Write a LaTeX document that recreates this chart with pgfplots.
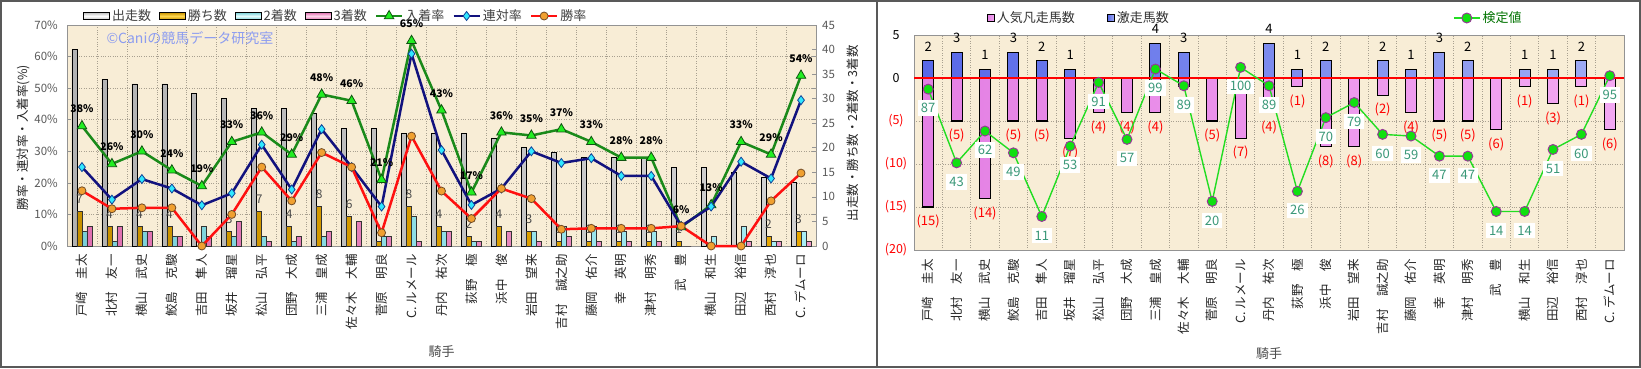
\documentclass[border=0pt]{standalone}
\usepackage{pgfplots}
\pgfplotsset{compat=1.18}
\usepackage{pgfplotstable}
\usepackage{fontspec}
\setmainfont{Noto Sans CJK JP}
\definecolor{bgc}{HTML}{F8EDD6}
\definecolor{gridc}{HTML}{A8A090}
\definecolor{grn}{HTML}{1A8A1A}
\definecolor{grnm}{HTML}{22EE22}
\definecolor{blu}{HTML}{12127E}
\definecolor{blum}{HTML}{30E8FF}
\definecolor{redl}{HTML}{FF1010}
\definecolor{redm}{HTML}{F0A030}
\definecolor{goldL}{HTML}{C89200}
\definecolor{goldM}{HTML}{FFD850}
\definecolor{goldR}{HTML}{E8A800}
\definecolor{cyL}{HTML}{78D0D8}
\definecolor{cyM}{HTML}{EAFFFF}
\definecolor{cyR}{HTML}{A8EEF4}
\definecolor{pkL}{HTML}{E070B0}
\definecolor{pkM}{HTML}{FFD8EC}
\definecolor{pkR}{HTML}{F098C8}
\definecolor{mgL}{HTML}{E480E4}
\definecolor{mgM}{HTML}{FFF0FF}
\definecolor{mgR}{HTML}{F2A8F2}
\definecolor{bbL}{HTML}{5868E8}
\definecolor{bbM}{HTML}{FFFFFF}
\definecolor{bbR}{HTML}{A0ACF4}
\definecolor{kg}{HTML}{22DD22}
\definecolor{kgm}{HTML}{10E010}
\definecolor{kgb}{HTML}{993399}
\definecolor{teallab}{HTML}{3A9878}
\definecolor{wm}{HTML}{8C9CF0}
\pgfplotsset{/pgf/number format/assume math mode=true,
  namelabels/.style={xticklabels={戸崎　圭太,北村　友一,横山　武史,鮫島　克駿,吉田　隼人,坂井　瑠星,松山　弘平,団野　大成,三浦　皇成,佐々木　大輔,菅原　明良,C. ルメール,丹内　祐次,荻野　極,浜中　俊,岩田　望来,吉村　誠之助,藤岡　佑介,幸　英明,津村　明秀,武　豊,横山　和生,田辺　裕信,西村　淳也,C. デムーロ}},
  linelegend/.style={legend image code/.code={\draw[mark repeat=2,mark phase=2,##1] plot coordinates {(0pt,0pt) (13pt,0pt) (26pt,0pt)};}}
}
\pgfplotstableread{
i starts wins second third winr rentai nyu
1 40 7 3 4 17.5 25.0 38
2 34 4 1 4 11.8 14.7 26
3 33 4 3 3 12.1 21.2 30
4 33 4 2 2 12.1 18.2 24
5 31 0 4 2 0 12.9 19
6 30 3 2 5 10.0 16.7 33
7 28 7 2 1 25.0 32.1 36
8 28 4 1 2 14.3 17.9 29
9 27 8 2 3 29.6 37.0 48
10 24 6 0 5 25.0 25.0 46
11 24 1 2 2 4.2 12.5 21
12 23 8 6 1 34.8 60.9 65
13 23 4 3 3 17.4 30.4 43
14 23 2 1 1 8.7 13.0 17
15 22 4 0 3 18.2 18.2 36
16 20 3 3 1 15.0 30.0 35
17 19 1 4 2 5.3 26.3 37
18 18 1 4 1 5.6 27.8 33
19 18 1 3 1 5.6 22.2 28
20 18 1 3 1 5.6 22.2 28
21 16 1 0 0 6.3 6.3 6
22 16 0 2 0 0 12.5 13
23 15 0 4 1 0 26.7 33
24 14 2 1 1 14.3 21.4 29
25 13 3 3 1 23.1 46.2 54
}\leftdata
\pgfplotstableread{
i geki ninki ken
1 2 -15 87
2 3 -5 43
3 1 -14 62
4 3 -5 49
5 2 -5 11
6 1 -7 53
7 0 -4 91
8 0 -4 57
9 4 -4 99
10 3 -1 89
11 0 -5 20
12 0 -7 100
13 4 -4 89
14 1 -1 26
15 2 -8 70
16 0 -8 79
17 2 -2 60
18 1 -4 59
19 3 -5 47
20 2 -5 47
21 0 -6 14
22 1 -1 14
23 1 -3 51
24 2 -1 60
25 0 -6 95
}\rightdata
\begin{document}
\begin{tikzpicture}[x=1pt,y=1pt]
\fill[white] (0,0) rectangle (1641,368);
\useasboundingbox (0,0) rectangle (1641,368);
% ---------------- LEFT: counts axis (bars) ----------------
\begin{axis}[
  at={(67pt,122pt)}, anchor=south west, scale only axis, width=749pt, height=221pt,
  xmin=0.5, xmax=25.5, ymin=0, ymax=45,
  axis background/.style={fill=bgc},
  axis line style={draw=gray!85, line width=0.8pt},
  xtick={1,...,25}, namelabels, major x tick style={draw=none},
  xticklabel style={rotate=90, anchor=east, inner sep=0pt, font=\fontsize{12.5}{12.5}\selectfont, text=black!85},
  xticklabel shift=8pt,
  minor xtick={1.5,2.5,...,24.5}, xminorgrids, minor x tick style={draw=none},
  ytick={0,5,...,45}, ytick pos=right, yticklabel pos=right,
  yticklabel style={anchor=west, inner sep=0pt, xshift=6pt, font=\fontsize{11.5}{11.5}\selectfont, text=gray!70!black},
  major y tick style={draw=gray!85, line width=0.6pt}, major tick length=4pt,
  extra y ticks={6.428571,12.857143,19.285714,25.714286,32.142857,38.571429},
  extra y tick labels={}, extra y tick style={grid=major, tick style={draw=none}},
  grid style={dotted, draw=gridc, line width=0.7pt},
  xlabel={騎手}, xlabel style={at={(axis description cs:0.5,-0.4796)}, anchor=center, font=\fontsize{13}{13}\selectfont, text=gray!60!black},
  ylabel={出走数・勝ち数・2着数・3着数}, ylabel style={at={(axis description cs:1.0494,0.51)}, anchor=center, font=\fontsize{12.5}{12.5}\selectfont, text=black!85},
]
\addplot[ybar, bar width=5pt, bar shift=-7.5pt, draw=black, line width=0.7pt, left color=gray!60, middle color=white, right color=gray!35] table[x=i,y=starts]{\leftdata};
\addplot[ybar, bar width=5pt, bar shift=-2.5pt, draw=black!80, line width=0.7pt, left color=goldL, middle color=goldM, right color=goldR] table[x=i,y=wins]{\leftdata};
\addplot[ybar, bar width=5pt, bar shift=2.5pt, draw=black!80, line width=0.7pt, left color=cyL, middle color=cyM, right color=cyR] table[x=i,y=second]{\leftdata};
\addplot[ybar, bar width=5pt, bar shift=7.5pt, draw=black!80, line width=0.7pt, left color=pkL, middle color=pkM, right color=pkR] table[x=i,y=third]{\leftdata};
\addplot[only marks, mark=*, mark size=0pt, mark options={draw=none,fill=none}, nodes near coords, point meta=y,
  every node near coord/.style={anchor=center, yshift=12pt, xshift=-2.5pt, font=\fontsize{12}{12}\selectfont, text=black!70}]
  coordinates {(1,7) (2,4) (3,4) (4,4) (6,3) (7,7) (8,4) (9,8) (10,6) (11,1) (12,8) (13,4) (14,2) (15,4) (16,3) (17,1) (18,1) (19,1) (20,1) (21,1) (24,2) (25,3)};
\end{axis}
% ---------------- LEFT: percent axis (lines) ----------------
\begin{axis}[
  at={(67pt,122pt)}, anchor=south west, scale only axis, width=749pt, height=221pt,
  xmin=0.5, xmax=25.5, ymin=0, ymax=70, clip=false,
  axis x line=none, axis y line*=left, axis line style={draw=gray!85, line width=0.8pt},
  ytick={0,10,...,70}, yticklabel={\pgfmathprintnumber{\tick}\%},
  yticklabel style={anchor=east, inner sep=0pt, xshift=-9pt, font=\fontsize{11.5}{11.5}\selectfont, text=gray!70!black},
  major y tick style={draw=gray!85, line width=0.6pt}, major tick length=4pt,
  ylabel={勝率・連対率・入着率(\%)}, ylabel style={at={(axis description cs:-0.0587,0.49)}, anchor=center, font=\fontsize{12.5}{12.5}\selectfont, text=black!85},
  linelegend,
  legend columns=-1,
  legend style={at={(0.0214,1.0407)}, anchor=west, draw=none, fill=none, inner sep=0pt,
    font=\fontsize{13}{13}\selectfont, text=black!75, nodes={inner sep=2pt},
    /tikz/every even column/.append style={column sep=6pt}},
]
\addlegendimage{legend image code/.code={\draw[draw=black, line width=0.8pt, top color=gray!50, bottom color=gray!50, middle color=white] (0pt,-3.5pt) rectangle (26pt,3.5pt);}}
\addlegendentry{出走数}
\addlegendimage{legend image code/.code={\draw[draw=black, line width=0.8pt, top color=goldL, bottom color=goldL, middle color=goldM] (0pt,-3.5pt) rectangle (26pt,3.5pt);}}
\addlegendentry{勝ち数}
\addlegendimage{legend image code/.code={\draw[draw=black, line width=0.8pt, top color=cyL, bottom color=cyL, middle color=cyM] (0pt,-3.5pt) rectangle (26pt,3.5pt);}}
\addlegendentry{2着数}
\addlegendimage{legend image code/.code={\draw[draw=black, line width=0.8pt, top color=pkL, bottom color=pkL, middle color=pkM] (0pt,-3.5pt) rectangle (26pt,3.5pt);}}
\addlegendentry{3着数}
\addplot[color=grn, line width=2.5pt, mark=triangle*, mark size=5.5pt, mark options={fill=grnm, draw=grn!60!black, line width=0.8pt},
  nodes near coords={\pgfmathprintnumber{\pgfplotspointmeta}\%}, point meta=y,
  every node near coord/.style={anchor=center, yshift=17pt, font=\bfseries\fontsize{10.5}{10.5}\selectfont, text=black}]
  table[x=i,y=nyu]{\leftdata};
\addlegendentry{入着率}
\addplot[color=blu, line width=2.5pt, mark=diamond*, mark size=4.5pt, mark options={fill=blum, draw=blu!80!cyan, line width=0.8pt}]
  table[x=i,y=rentai]{\leftdata};
\addlegendentry{連対率}
\addplot[color=redl, line width=2.5pt, mark=*, mark size=4pt, mark options={fill=redm, draw=brown!60!black, line width=0.8pt}]
  table[x=i,y=winr]{\leftdata};
\addlegendentry{勝率}
\end{axis}
\node[anchor=west, text=wm, font=\fontsize{14}{14}\selectfont] at (103,330) {©Caniの競馬データ研究室};
% ---------------- RIGHT: bars ----------------
\begin{axis}[
  at={(914pt,118pt)}, anchor=south west, scale only axis, width=710pt, height=215pt,
  xmin=0.5, xmax=25.5, ymin=-20, ymax=5,
  axis background/.style={fill=bgc},
  axis line style={draw=gray!85, line width=0.8pt},
  xtick={1,...,25}, namelabels, major tick length=0pt,
  xticklabel style={rotate=90, anchor=east, inner sep=0pt, font=\fontsize{12.5}{12.5}\selectfont, text=black!85},
  xticklabel shift=9pt,
  minor xtick={1.5,2.5,...,24.5}, xminorgrids, minor x tick style={draw=none},
  ytick={-20,-15,...,5}, yticklabels={{\color{red}(20)},{\color{red}(15)},{\color{red}(10)},{\color{red}(5)},0,5},
  yticklabel style={anchor=center, inner sep=0pt, xshift=-18pt, font=\fontsize{12.5}{12.5}\selectfont},
  ymajorgrids,
  grid style={dotted, draw=gridc, line width=0.7pt},
  xlabel={騎手}, xlabel style={at={(axis description cs:0.5,-0.4837)}, anchor=center, font=\fontsize{13}{13}\selectfont, text=gray!60!black},
  legend columns=-1,
  legend style={at={(0.1028,1.079)}, anchor=west, draw=none, fill=none, inner sep=0pt,
    font=\fontsize{13}{13}\selectfont, text=black!80, nodes={inner sep=2pt},
    /tikz/every even column/.append style={column sep=30pt}},
]
\addplot[ybar, bar width=11pt, bar shift=0pt, draw=black, line width=1.1pt, left color=mgL, middle color=mgM, right color=mgR,
  legend image code/.code={\draw[draw=black, line width=0.8pt, fill=mgR] (0pt,-3.5pt) rectangle (7pt,3.5pt);}]
  table[x=i,y=ninki]{\rightdata};
\addlegendentry{人気凡走馬数}
\addplot[ybar, bar width=11pt, bar shift=0pt, draw=black, line width=1.1pt, left color=bbL, middle color=bbM, right color=bbR,
  legend image code/.code={\draw[draw=black, line width=0.8pt, fill=bbR] (0pt,-3.5pt) rectangle (7pt,3.5pt);}]
  table[x=i,y=geki]{\rightdata};
\addlegendentry{激走馬数}
\addplot[forget plot, red, line width=2.6pt] coordinates {(0.5,0) (25.5,0)};
\addplot[forget plot, only marks, mark=*, mark size=0pt, mark options={draw=none,fill=none}, nodes near coords, point meta=y,
  every node near coord/.style={anchor=center, yshift=14.5pt, font=\fontsize{13}{13}\selectfont, text=black}]
  coordinates {(1,2) (2,3) (3,1) (4,3) (5,2) (6,1) (9,4) (10,3) (13,4) (14,1) (15,2) (17,2) (18,1) (19,3) (20,2) (22,1) (23,1) (24,2)};
\addplot[forget plot, only marks, mark=*, mark size=0pt, mark options={draw=none,fill=none}, nodes near coords, point meta=explicit symbolic,
  every node near coord/.style={anchor=center, yshift=-14.7pt, font=\fontsize{13}{13}\selectfont, text=red}]
  coordinates {(1,-15) [(15)] (2,-5) [(5)] (3,-14) [(14)] (4,-5) [(5)] (5,-5) [(5)] (6,-7) [(7)] (7,-4) [(4)] (8,-4) [(4)] (9,-4) [(4)] (11,-5) [(5)] (12,-7) [(7)] (13,-4) [(4)] (14,-1) [(1)] (15,-8) [(8)] (16,-8) [(8)] (17,-2) [(2)] (18,-4) [(4)] (19,-5) [(5)] (20,-5) [(5)] (21,-6) [(6)] (22,-1) [(1)] (23,-3) [(3)] (24,-1) [(1)] (25,-6) [(6)]};
\end{axis}
% ---------------- RIGHT: 検定値 ----------------
\begin{axis}[
  at={(914pt,118pt)}, anchor=south west, scale only axis, width=710pt, height=215pt,
  xmin=0.5, xmax=25.5, ymin=-9.0, ymax=119.3, hide axis, clip=false,
  linelegend,
  legend style={at={(0.759,1.079)}, anchor=west, draw=none, fill=none, inner sep=0pt,
    font=\fontsize{13}{13}\selectfont, text=green!45!black, nodes={inner sep=2pt}},
]
\addplot[color=kg, line width=1.4pt, mark=*, mark size=5pt, mark options={fill=kgm, draw=kgb, line width=0.9pt},
  nodes near coords, point meta=y,
  every node near coord/.style={anchor=center, yshift=-19pt, fill=white, inner sep=3pt, font=\fontsize{13}{13}\selectfont, text=teallab}]
  table[x=i,y=ken]{\rightdata};
\addlegendentry{検定値}
\end{axis}
% frame
\draw[line width=2pt, draw=black!65] (1,1) rectangle (1640,367);
\draw[line width=2pt, draw=black!65] (877,0) -- (877,368);
\end{tikzpicture}
\end{document}
